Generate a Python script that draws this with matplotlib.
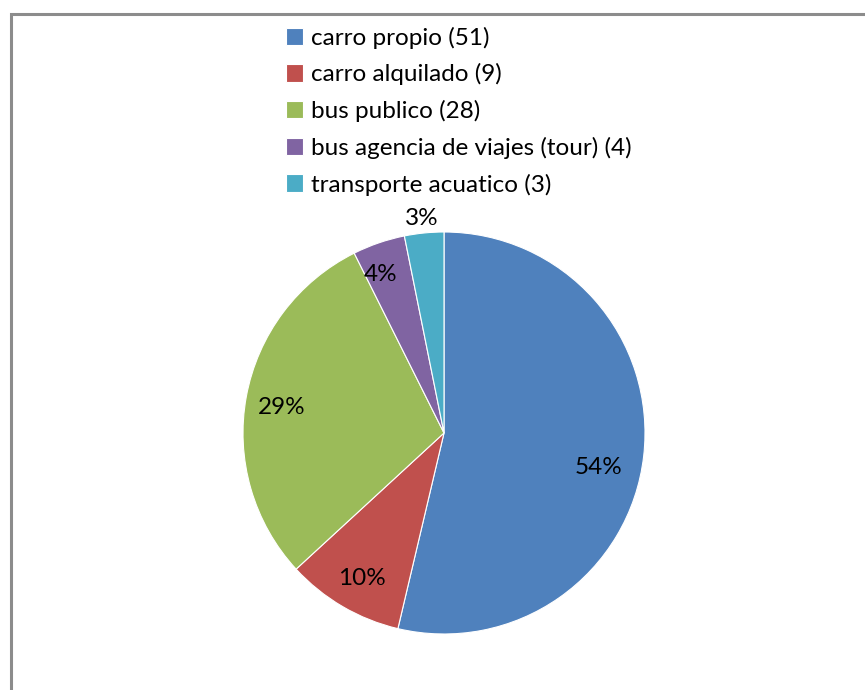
import numpy as np
import matplotlib.pyplot as plt
from matplotlib.patches import Rectangle

# transporte usado por los visitantes
categorias = ["carro propio", "carro alquilado", "bus publico",
              "bus agencia de viajes (tour)", "transporte acuatico"]
cantidades = [51, 9, 28, 4, 3]
etiquetas_pct = ["54%", "10%", "29%", "4%", "3%"]
colores = ["#4F81BD", "#C0504D", "#9BBB59", "#8064A2", "#4BACC6"]

plt.rcParams['font.family'] = ['Lato', 'DejaVu Sans']

W, H = 865, 690
fig = plt.figure(figsize=(W / 100, H / 100), dpi=100)

# marco gris del grafico (se sale por la derecha y abajo)
fig.patches.append(Rectangle((11 / W, -0.1), 1.2, 1 - 14 / H + 0.1,
                             transform=fig.transFigure, fill=False,
                             edgecolor="#8c8c8c", linewidth=2.2))

# pie: centro (444, 433) px, radio 201 px
cx, cy, r = 444, H - 433, 201
ax = fig.add_axes([(cx - r) / W, (cy - r) / H, 2 * r / W, 2 * r / H])
wedges, _ = ax.pie(cantidades, colors=colores, startangle=90, counterclock=False,
                   radius=1, wedgeprops=dict(edgecolor="white", linewidth=0.8))
ax.set_xlim(-1, 1)
ax.set_ylim(-1, 1)
ax.set_aspect("equal")
ax.axis("off")

# etiquetas de porcentaje (distancia al centro y pequeno giro respecto al angulo medio)
dist = [0.79, 0.83, 0.815, 0.85, 1.075]
giro = [-6.1, 0.8, 1.6, 2.7, 0.3]
total = sum(cantidades)
acum = 0
for v, txt, d, g in zip(cantidades, etiquetas_pct, dist, giro):
    medio = 90 - 360 * (acum + v / 2) / total + g
    acum += v
    ang = np.deg2rad(medio)
    ax.text(d * np.cos(ang), d * np.sin(ang), txt, ha="center", va="center",
            fontsize=17.5, color="black", clip_on=False)

leyenda = [f"{c} ({n})" for c, n in zip(categorias, cantidades)]
fig.legend(wedges, leyenda, loc="upper left", bbox_to_anchor=(276 / W, 1 - 17 / H),
           frameon=False, fontsize=17.5, handlelength=0.72, handleheight=0.72,
           handletextpad=0.3, labelspacing=0.6, borderaxespad=0)

fig.savefig("out.png", dpi=100, facecolor="white")
